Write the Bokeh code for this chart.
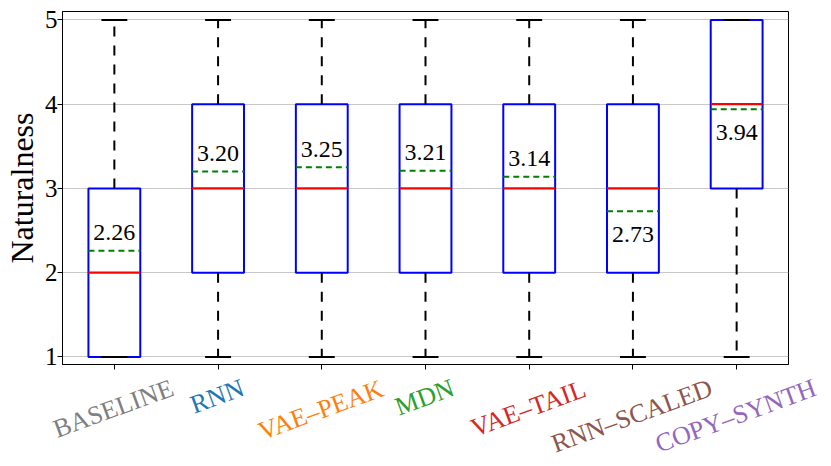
import math
from bokeh.plotting import figure
from bokeh.models import FixedTicker, Range1d, CustomJSTickFormatter
from bokeh.embed import file_html
from bokeh.resources import INLINE
from bokeh.core.properties import value

# ---- data ----
categories = ["BASELINE", "RNN", "VAE–PEAK", "MDN", "VAE–TAIL", "RNN–SCALED", "COPY–SYNTH"]
label_colors = ["#7f7f7f", "#1f77b4", "#ff7f0e", "#2ca02c", "#d62728", "#8c564b", "#9467bd"]
whisker_low = [1, 1, 1, 1, 1, 1, 1]
q1 = [1, 2, 2, 2, 2, 2, 3]
median = [2, 3, 3, 3, 3, 3, 4]
q3 = [3, 4, 4, 4, 4, 4, 5]
whisker_high = [5, 5, 5, 5, 5, 5, 5]
means = [2.26, 3.20, 3.25, 3.21, 3.14, 2.73, 3.94]
y_ticks = [1, 2, 3, 4, 5]

FONT = "Liberation Serif"
LABEL_PX = 26
pos = list(range(1, len(categories) + 1))
Y0, Y1 = 0.91, 5.1
BL, BR, BT, BB = 61, 44, 11, 10
FW, FH = 726, 353
ppu = FH / (Y1 - Y0)            # pixels per y unit
ppx = FW / len(categories)       # pixels per x unit

p = figure(frame_width=FW, frame_height=FH,
           x_range=Range1d(0.5, len(categories) + 0.5), y_range=Range1d(Y0, Y1),
           output_backend="svg", toolbar_location=None,
           min_border_left=BL, min_border_right=BR, min_border_top=BT, min_border_bottom=BB)

p.outline_line_color = "black"
p.outline_line_width = 1
p.background_fill_color = "white"
p.border_fill_color = "white"

p.xaxis.ticker = FixedTicker(ticks=pos)
p.xaxis.formatter = CustomJSTickFormatter(code="return ''")
p.xaxis.major_label_standoff = 0
p.xaxis.minor_tick_line_color = None
p.xaxis.major_tick_out = 5
p.xaxis.major_tick_in = 0
p.xaxis.axis_line_color = "black"

p.yaxis.ticker = FixedTicker(ticks=y_ticks)
p.yaxis.minor_tick_line_color = None
p.yaxis.major_tick_out = 5
p.yaxis.major_tick_in = 0
p.yaxis.major_label_standoff = 0
p.yaxis.major_label_text_font = FONT
p.yaxis.major_label_text_font_size = "25px"
p.yaxis.major_label_text_color = "black"
p.yaxis.axis_line_color = "black"
p.yaxis.axis_label = "Naturalness"
p.yaxis.axis_label_text_font = FONT
p.yaxis.axis_label_text_font_size = "32px"
p.yaxis.axis_label_text_font_style = "normal"
p.yaxis.axis_label_text_color = "black"
p.yaxis.axis_label_standoff = 2

p.xgrid.visible = False
p.ygrid.ticker = FixedTicker(ticks=y_ticks)
p.ygrid.grid_line_color = "#c8c8c8"
p.ygrid.grid_line_width = 1.2

bw = 0.25   # half box width
cw = 0.125  # half cap width
left = [x - bw for x in pos]
right = [x + bw for x in pos]

# boxes
p.quad(left=left, right=right, bottom=q1, top=q3, fill_color=None,
       line_color="#0000ff", line_width=2)
# whiskers
p.segment(x0=pos, y0=q3, x1=pos, y1=whisker_high, line_color="black",
          line_width=2, line_dash="10 9")
p.segment(x0=pos, y0=q1, x1=pos, y1=whisker_low, line_color="black",
          line_width=2, line_dash="10 9")
# caps
p.segment(x0=[x - cw for x in pos], y0=whisker_high, x1=[x + cw for x in pos],
          y1=whisker_high, line_color="black", line_width=2)
p.segment(x0=[x - cw for x in pos], y0=whisker_low, x1=[x + cw for x in pos],
          y1=whisker_low, line_color="black", line_width=2)
# medians
p.segment(x0=left, y0=median, x1=right, y1=median, line_color="#ff0000", line_width=2.2)
# means
p.segment(x0=left, y0=means, x1=right, y1=means, line_color="#008000",
          line_width=2, line_dash="6 4")

# mean labels
txt_y = []
for m, md in zip(means, median):
    if m > md:
        txt_y.append(m + 18 / ppu)
    else:
        txt_y.append(m - 23.5 / ppu)
p.text(x=pos, y=txt_y, text=["%.2f" % m for m in means], text_align="center",
       text_baseline="alphabetic", text_font=value(FONT), text_font_size="24px",
       text_color="black")

# ---- strip with rotated, coloured category labels, same x mapping ----
_w = {"A": 722, "B": 667, "C": 667, "D": 722, "E": 611, "I": 333, "K": 722, "L": 611,
      "M": 889, "N": 722, "O": 722, "P": 556, "R": 667, "S": 556, "T": 611, "V": 722,
      "Y": 722, "H": 722, "–": 500}


def text_len(s):
    return sum(_w.get(c, 650) for c in s) / 1000 * LABEL_PX


TOP1 = BT + FH + BB            # height of the main figure
H2 = 466 - TOP1
W2 = BL + FW + BR
x_start = 0.5 - BL / ppx
p2 = figure(width=W2, height=H2, x_range=Range1d(x_start, x_start + W2 / ppx),
            y_range=Range1d(0, H2), x_axis_type=None, y_axis_type=None,
            output_backend="svg", toolbar_location=None, min_border=0)
p2.outline_line_color = None
p2.grid.visible = False
p2.background_fill_color = "white"
p2.border_fill_color = "white"

ang = math.radians(20)
frame_bottom = BT + FH
ys = []
for name in categories:
    L = text_len(name)
    cy = frame_bottom + 14 + (L * math.sin(ang) + 18 * math.cos(ang)) / 2   # page px
    ys.append(H2 - (cy - TOP1))
p2.text(x=pos, y=ys, text=categories, angle=ang, text_align="center",
        text_baseline="middle", text_font=value(FONT), text_font_size="%dpx" % LABEL_PX,
        text_color=label_colors)

open("out.html", "w").write(file_html([p, p2], INLINE))
